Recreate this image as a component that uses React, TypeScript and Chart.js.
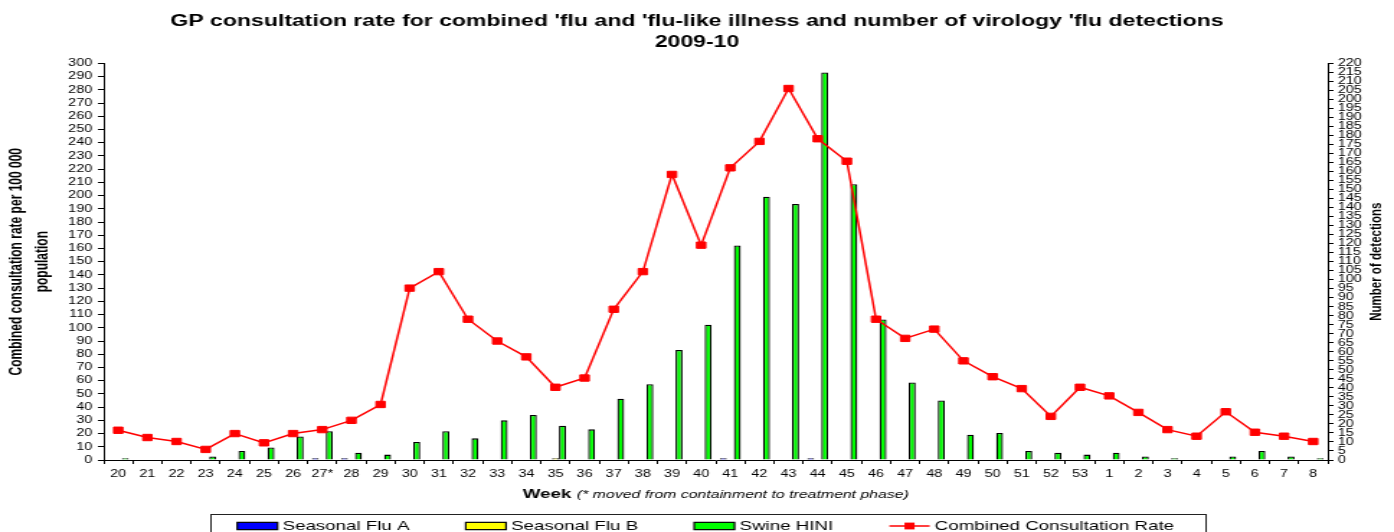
import React, { useEffect, useRef } from 'react';
import { Chart, registerables } from 'chart.js';

Chart.register(...registerables);

// ---------------- data ----------------
const weeks = ['20', '21', '22', '23', '24', '25', '26', '27*', '28', '29', '30', '31', '32', '33', '34', '35', '36', '37', '38', '39', '40', '41', '42', '43', '44', '45', '46', '47', '48', '49', '50', '51', '52', '53', '1', '2', '3', '4', '5', '6', '7', '8'];

const seasonalFluA = [0, 0, 0, 0, 0, 0, 0, 1, 1, 0, 0, 0, 0, 0, 0, 0, 0, 0, 0, 0, 0, 1, 0, 0, 1, 0, 0, 0, 0, 0, 0, 0, 0, 0, 0, 0, 0, 0, 0, 0, 0, 0];
const seasonalFluB = [0, 0, 0, 0, 0, 0, 0, 0, 0, 0, 0, 0, 0, 0, 0, 1, 0, 0, 0, 0, 0, 0, 0, 0, 0, 0, 0, 0, 0, 0, 0, 0, 0, 0, 0, 0, 0, 0, 0, 0, 0, 0];
const swineH1N1 = [1, 0, 0, 2, 5, 7, 13, 16, 4, 3, 10, 16, 12, 22, 25, 19, 17, 34, 42, 61, 75, 119, 146, 142, 215, 153, 78, 43, 33, 14, 15, 5, 4, 3, 4, 2, 1, 0, 2, 5, 2, 1];
const consultationRate = [22.5, 17, 14, 8, 20, 13, 20, 23, 30, 42, 130, 142.5, 106.5, 90, 78, 55, 62, 114, 142.5, 216, 162.5, 221, 241, 281, 243, 226, 106.5, 92, 99, 75, 63, 54, 33, 55, 48.5, 36, 23, 18, 36.5, 21, 18, 14];

const titleLines = ["GP consultation rate for combined 'flu and 'flu-like illness and number of virology 'flu detections", '2009-10'];
const leftAxisTitle = ['Combined consultation rate per 100 000', 'population'];
const rightAxisTitle = 'Number of detections';
const xTitleMain = 'Week';
const xTitleNote = '(* moved from containment to treatment phase)';
const seriesLabels = ['Seasonal Flu A', 'Seasonal Flu B', 'Swine HINI', 'Combined Consultation Rate'];

const leftMin = 0, leftMax = 300, leftStep = 10;
const rightMin = 0, rightMax = 220, rightStep = 5;

// ---------------- layout / style ----------------
const FAMILY = "'Liberation Sans', Arial, Helvetica, sans-serif";
const OUT_W = 1394;
const OUT_H = 532;
const STRETCH = 1.44;
const W = Math.round(OUT_W / STRETCH);
const H = OUT_H;

const extrasPlugin = {
  id: 'extras',
  afterDraw(chart: any) {
    const ctx = chart.ctx as CanvasRenderingContext2D;
    const area = chart.chartArea;
    ctx.save();
    ctx.fillStyle = '#000';

    // x-axis title (bold + italic parts)
    ctx.textBaseline = 'alphabetic';
    ctx.textAlign = 'left';
    ctx.font = `bold 13px ${FAMILY}`;
    const w1 = ctx.measureText(xTitleMain).width;
    ctx.font = `italic 11px ${FAMILY}`;
    const w2 = ctx.measureText(xTitleNote).width;
    const gap = 4;
    const cx = (area.left + area.right) / 2;
    const sx = cx - (w1 + gap + w2) / 2;
    ctx.font = `bold 13px ${FAMILY}`;
    ctx.fillText(xTitleMain, sx, 498);
    ctx.font = `italic 11px ${FAMILY}`;
    ctx.fillText(xTitleNote, sx + w1 + gap, 498);

    // right axis title
    ctx.save();
    ctx.translate(956, (area.top + area.bottom) / 2);
    ctx.rotate(-Math.PI / 2);
    ctx.font = `bold 11.5px ${FAMILY}`;
    ctx.textAlign = 'center';
    ctx.textBaseline = 'middle';
    ctx.fillText(rightAxisTitle, 0, 0);
    ctx.restore();

    // legend
    const ds = chart.data.datasets;
    const legendItems = [ds[1], ds[2], ds[3], ds[0]];
    ctx.font = `13px ${FAMILY}`;
    const boxW = 28, boxH = 7.3, textGap = 3.5, itemGap = 39;
    const ly = 526;
    const widths = legendItems.map((d: any) => boxW + textGap + ctx.measureText(d.label).width);
    const total = widths.reduce((a: number, b: number) => a + b, 0) + itemGap * (legendItems.length - 1);
    const startX = 490 - total / 2;
    // border box (runs past the bottom edge)
    ctx.strokeStyle = '#222';
    ctx.lineWidth = 1;
    ctx.strokeRect(Math.round(startX - 19) + 0.5, 514.5, Math.round(total + 40), 40);
    let x = startX;
    legendItems.forEach((d: any, i: number) => {
      if (d.type === 'line') {
        ctx.strokeStyle = d.borderColor;
        ctx.lineWidth = 1.5;
        ctx.beginPath();
        ctx.moveTo(x, ly);
        ctx.lineTo(x + boxW, ly);
        ctx.stroke();
        ctx.fillStyle = d.backgroundColor;
        ctx.fillRect(x + boxW / 2 - 3.5, ly - 3.4, 7, 6.8);
      } else {
        ctx.fillStyle = d.backgroundColor;
        ctx.fillRect(x, ly - boxH / 2, boxW, boxH);
        ctx.strokeStyle = '#000';
        ctx.lineWidth = 1.2;
        ctx.strokeRect(x, ly - boxH / 2, boxW, boxH);
      }
      ctx.fillStyle = '#000';
      ctx.textAlign = 'left';
      ctx.textBaseline = 'middle';
      ctx.fillText(d.label, x + boxW + textGap, ly);
      x += widths[i] + itemGap;
    });
    ctx.restore();
  },
};

export default function App() {
  const ref = useRef<HTMLCanvasElement | null>(null);

  useEffect(() => {
    if (!ref.current) return;
    Chart.defaults.font.family = FAMILY;
    Chart.defaults.color = '#000';

    const barCommon = {
      type: 'bar' as const,
      yAxisID: 'y2',
      borderColor: '#000',
      borderWidth: 1.3,
      categoryPercentage: 0.72,
      barPercentage: 1,
      order: 1,
    };

    const chart = new Chart(ref.current, {
      data: {
        labels: weeks,
        datasets: [
          {
            type: 'line',
            label: seriesLabels[3],
            data: consultationRate,
            yAxisID: 'y',
            borderColor: '#FF0000',
            backgroundColor: '#FF0000',
            borderWidth: 1.5,
            pointStyle: 'rect',
            pointRadius: 4.5,
            pointBorderWidth: 1,
            pointBorderColor: '#FF0000',
            pointBackgroundColor: '#FF0000',
            tension: 0,
            order: 0,
          } as any,
          { ...barCommon, label: seriesLabels[0], data: seasonalFluA, backgroundColor: '#0000FF' },
          { ...barCommon, label: seriesLabels[1], data: seasonalFluB, backgroundColor: '#FFFF00' },
          { ...barCommon, label: seriesLabels[2], data: swineH1N1, backgroundColor: '#00FF00' },
        ],
      },
      options: {
        responsive: false,
        animation: false,
        layout: { padding: 0 },
        plugins: {
          legend: { display: false },
          tooltip: { enabled: false },
          title: {
            display: true,
            text: titleLines,
            color: '#000',
            font: { family: FAMILY, size: 16, weight: 'bold', lineHeight: 1.34 },
            padding: { top: 10.5, bottom: 10 },
          },
        },
        scales: {
          x: {
            type: 'category',
            offset: true,
            grid: { display: true, drawOnChartArea: false, drawTicks: true, tickLength: 4, color: '#000', offset: true },
            border: { display: true, color: '#000', width: 1 },
            ticks: { color: '#000', font: { size: 10, family: FAMILY }, autoSkip: false, maxRotation: 0, minRotation: 0, padding: 4 },
            afterFit: (s: any) => { s.height = 72; },
          },
          y: {
            position: 'left',
            min: leftMin,
            max: leftMax,
            ticks: { stepSize: leftStep, autoSkip: false, color: '#000', font: { size: 10, family: FAMILY }, padding: 4 },
            grid: { display: true, drawOnChartArea: false, drawTicks: true, tickLength: 4, color: '#000' },
            border: { display: true, color: '#000', width: 1 },
            title: {
              display: true,
              text: leftAxisTitle,
              color: '#000',
              font: { family: FAMILY, size: 12, weight: 'bold', lineHeight: 1.5 },
              padding: { top: 3, bottom: 0 },
            },
            afterFit: (s: any) => { s.width = 72; },
          },
          y2: {
            position: 'right',
            min: rightMin,
            max: rightMax,
            ticks: { stepSize: rightStep, autoSkip: false, color: '#000', font: { size: 10, family: FAMILY }, padding: 3 },
            grid: { display: true, drawOnChartArea: false, drawTicks: true, tickLength: 4, color: '#000' },
            border: { display: true, color: '#000', width: 1 },
            afterFit: (s: any) => { s.width = W - 922; },
          },
        },
      } as any,
      plugins: [extrasPlugin],
    });
    return () => chart.destroy();
  }, []);

  return (
    <div style={{ position: 'fixed', left: 0, top: 0, width: OUT_W, height: OUT_H, overflow: 'hidden', background: '#fff' }}>
      <canvas ref={ref} width={W} height={H} style={{ width: `${OUT_W}px`, height: `${OUT_H}px`, display: 'block' }} />
    </div>
  );
}
